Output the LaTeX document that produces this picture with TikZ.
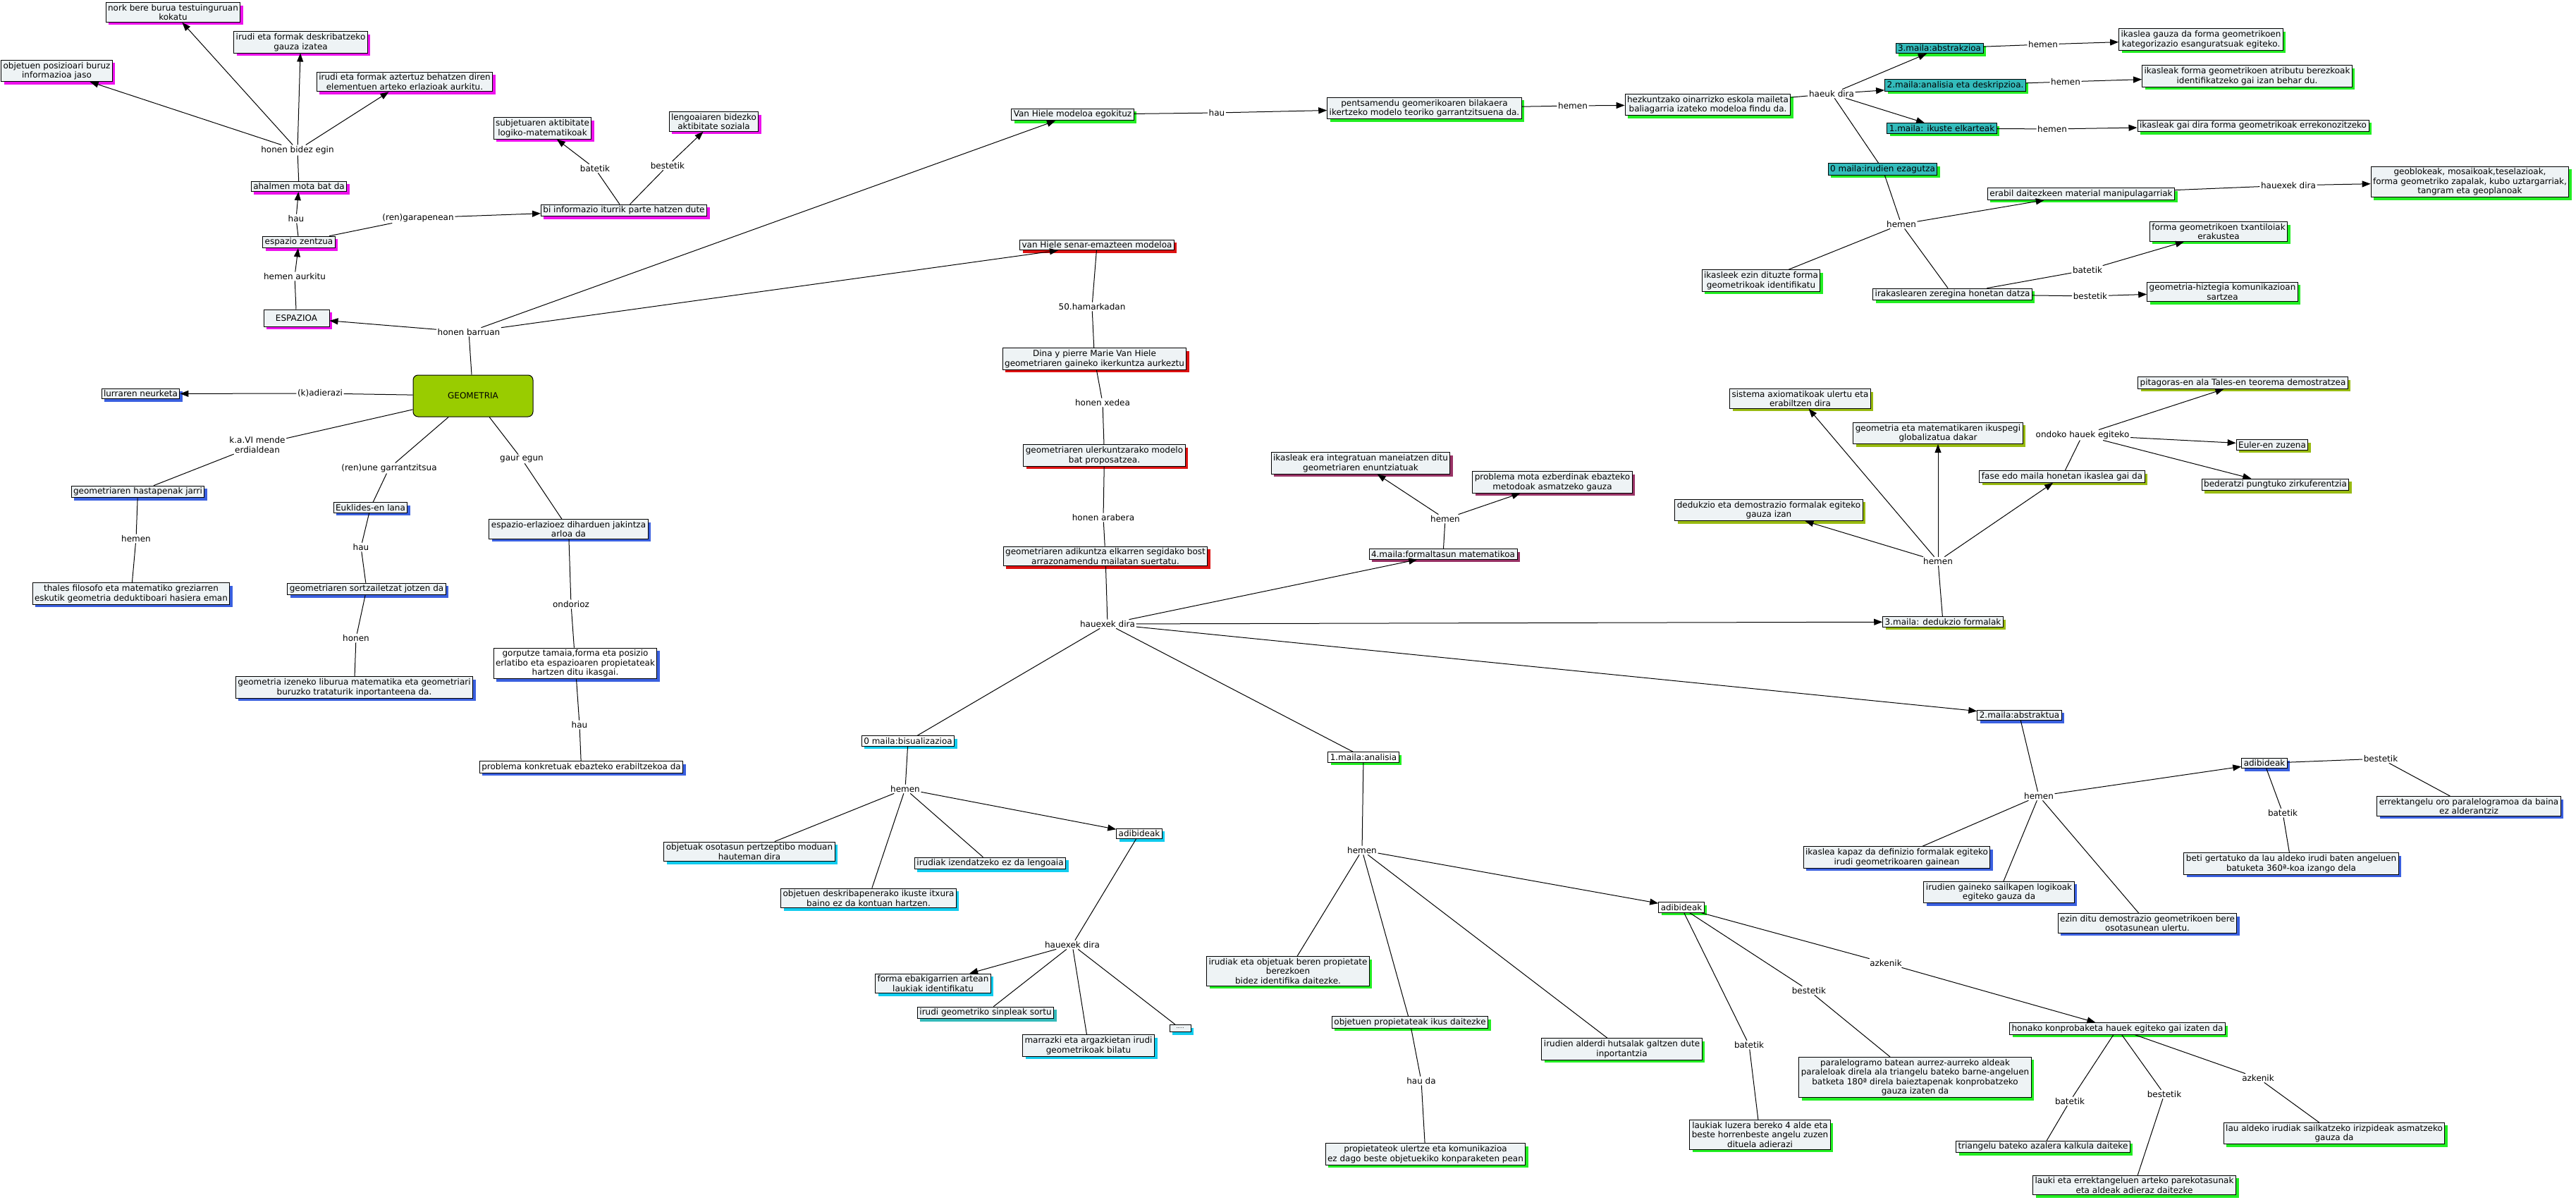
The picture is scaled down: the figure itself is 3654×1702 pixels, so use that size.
\documentclass[tikz,border=0pt]{standalone}
\usepackage{fontspec}
\setmainfont{DejaVu Sans}
\usetikzlibrary{arrows.meta,shadows}
\definecolor{bfill}{HTML}{EEF3F5}
\definecolor{cmag}{HTML}{EE11EE}
\definecolor{cblue}{HTML}{3A60E0}
\definecolor{cgreen}{HTML}{22EE22}
\definecolor{cred}{HTML}{DD1111}
\definecolor{cpurp}{HTML}{993366}
\definecolor{colive}{HTML}{99BB11}
\definecolor{ccyan}{HTML}{11CCEE}
\definecolor{cteal}{HTML}{33BBBB}
\definecolor{geo}{HTML}{99CC00}
\tikzset{
 box/.style={draw=black, line width=1pt, fill=bfill, align=center, inner xsep=3pt, inner ysep=2.5pt, font=\fontsize{12}{13.5}\selectfont},
 wbox/.style={box, fill=white},
 tbox/.style={box, fill=cteal},
 sh/.style={drop shadow={shadow xshift=4pt,shadow yshift=-4pt,opacity=1,fill=#1,draw=none}},
 lbl/.style={fill=white, inner sep=1.5pt, align=center, font=\fontsize{12}{13.5}\selectfont},
 ln/.style={line width=1pt, black},
 arr/.style={ln, -{Triangle[length=12pt,width=9pt]}},
}
\begin{document}
\begin{tikzpicture}[x=1pt,y=-1pt]
\useasboundingbox (0,0) rectangle (3654,1702);
% ---------- ESPAZIOA branch
\node[box,sh=cmag] (nork) at (245.5,17.5) {nork bere burua testuinguruan\\kokatu};
\node[box,sh=cmag] (deskr) at (426.5,60) {irudi eta formak deskribatzeko\\gauza izatea};
\node[box,sh=cmag] (posiz) at (80.5,100.5) {objetuen posizioari buruz\\informazioa jaso};
\node[box,sh=cmag] (azter) at (574,116) {irudi eta formak aztertuz behatzen diren\\elementuen arteko erlazioak aurkitu.};
\node[lbl] (Lbidez) at (422,213) {honen bidez egin};
\node[box,sh=cmag] (ahalmen) at (424,264.5) {ahalmen mota bat da};
\node[lbl] (Lhau1) at (420,310) {hau};
\node[box,sh=cmag] (zentzua) at (424,343.5) {espazio zentzua};
\node[lbl] (Lgarap) at (593,309) {(ren)garapenean};
\node[box,sh=cmag] (biinfo) at (885,298.5) {bi informazio iturrik parte hatzen dute};
\node[lbl] (Lbat1) at (844,239) {batetik};
\node[lbl] (Lbest1) at (947,235) {bestetik};
\node[box,sh=cmag] (subj) at (769.5,182) {subjetuaren aktibitate\\logiko-matematikoak};
\node[box,sh=cmag] (leng) at (1012.5,172.5) {lengoaiaren bidezko\\aktibitate soziala};
\node[lbl] (Laurk) at (418,392) {hemen aurkitu};
\node[box,sh=cmag,minimum width=93pt,minimum height=24pt] (espazioa) at (420.5,451) {ESPAZIOA};
\node[lbl] (Lbarr) at (665,471) {honen barruan};
% ---------- GEOMETRIA
\node[draw=black,line width=1pt,fill=geo,rounded corners=7pt,minimum width=170pt,minimum height=59pt,font=\fontsize{12}{13.5}\selectfont] (geo) at (671,561.5) {GEOMETRIA};
\node[box,sh=cblue] (lurraren) at (199.5,558.5) {lurraren neurketa};
\node[lbl] (Lkadi) at (454,558) {(k)adierazi};
\node[lbl] (Lkavi) at (365,631) {k.a.VI mende\\erdialdean};
\node[box,sh=cblue] (hastapen) at (195.5,697.5) {geometriaren hastapenak jarri};
\node[lbl] (Lhemen2) at (193,764) {hemen};
\node[box,sh=cblue] (thales) at (186,842) {thales filosofo eta matematiko greziarren\\eskutik geometria deduktiboari hasiera eman};
\node[lbl] (Lune) at (552,664) {(ren)une garrantzitsua};
\node[box,sh=cblue] (euklides) at (525.5,720) {Euklides-en lana};
\node[lbl] (Lhau2) at (512,776) {hau};
\node[box,sh=cblue] (sortzaile) at (520,835.5) {geometriaren sortzailetzat jotzen da};
\node[lbl] (Lhonen) at (505,905) {honen};
\node[box,sh=cblue] (liburua) at (502.5,975) {geometria izeneko liburua matematika eta geometriari\\buruzko trataturik inportanteena da.};
\node[lbl] (Lgaur) at (740,651) {gaur egun};
\node[box,sh=cblue] (jakintza) at (806.5,750.5) {espazio-erlazioez diharduen jakintza\\arloa da};
\node[lbl] (Londor) at (810,857) {ondorioz};
\node[wbox,sh=cblue] (gorputze) at (816,941) {gorputze tamaia,forma eta posizio\\erlatibo eta espazioaren propietateak\\hartzen ditu ikasgai.};
\node[lbl] (Lhau3) at (822,1028) {hau};
\node[wbox,sh=cblue] (konkretuak) at (824.5,1088) {problema konkretuak ebazteko erabiltzekoa da};
% ---------- Van Hiele egokituz
\node[box,sh=cgreen] (egokituz) at (1521.5,162.5) {Van Hiele modeloa egokituz};
\node[lbl] (Lhau4) at (1726,160) {hau};
\node[box,sh=cgreen] (pentsamendu) at (2020.5,153.5) {pentsamendu geomerikoaren bilakaera\\ikertzeko modelo teoriko garrantzitsuena da.};
\node[lbl] (Lhemen4) at (2231,150) {hemen};
\node[box,sh=cgreen] (hezkuntzako) at (2422.5,148.5) {hezkuntzako oinarrizko eskola maileta\\baliagarria izateko modeloa findu da.};
\node[lbl] (Lhaeuk) at (2598,133) {haeuk dira};
\node[tbox,sh=cgreen] (m3) at (2751,68.5) {3.maila:abstrakzioa};
\node[lbl] (Lh3) at (2898,63) {hemen};
\node[box,sh=cgreen] (m3t) at (3122,56) {ikaslea gauza da forma geometrikoen\\kategorizazio esanguratsuak egiteko.};
\node[tbox,sh=cgreen] (m2) at (2773.5,121) {2.maila:analisia eta deskripzioa.};
\node[lbl] (Lh2) at (2930,116) {hemen};
\node[box,sh=cgreen] (m2t) at (3187.5,108) {ikasleak forma geometrikoen atributu berezkoak\\identifikatzeko gai izan behar du.};
\node[tbox,sh=cgreen] (m1) at (2754.5,182) {1.maila: ikuste elkarteak};
\node[lbl] (Lh1) at (2911,183) {hemen};
\node[box,sh=cgreen] (m1t) at (3196,178.5) {ikasleak gai dira forma geometrikoak errekonozitzeko};
\node[tbox,sh=cgreen] (m0) at (2670.5,240) {0 maila:irudien ezagutza};
\node[lbl] (Lh0) at (2697,318) {hemen};
\node[box,sh=cgreen] (erabil) at (2952,275) {erabil daitezkeen material manipulagarriak};
\node[lbl] (Lhauex2) at (3246,263) {hauexek dira};
\node[box,sh=cgreen] (geobl) at (3503.5,258) {geoblokeak, mosaikoak,teselazioak,\\forma geometriko zapalak, kubo uztargarriak,\\tangram eta geoplanoak};
\node[box,sh=cgreen] (txantil) at (3147,328.5) {forma geometrikoen txantiloiak\\erakustea};
\node[lbl] (Lbat2) at (2961,383) {batetik};
\node[box,sh=cgreen] (irakasle) at (2769.5,417.5) {irakaslearen zeregina honetan datza};
\node[lbl] (Lbest2) at (2965,420) {bestetik};
\node[box,sh=cgreen] (hiztegi) at (3152.5,414) {geometria-hiztegia komunikazioan\\sartzea};
\node[box,sh=cgreen] (ezin) at (2498,398) {ikasleek ezin dituzte forma\\geometrikoak identifikatu};
% ---------- red chain
\node[box,sh=cred] (senar) at (1556,347.5) {van Hiele senar-emazteen modeloa};
\node[lbl] (L50) at (1549,435) {50.hamarkadan};
\node[box,sh=cred] (dina) at (1552.5,509) {Dina y pierre Marie Van Hiele\\geometriaren gaineko ikerkuntza aurkeztu};
\node[lbl] (Lxedea) at (1564,571) {honen xedea};
\node[box,sh=cred] (ulerk) at (1566.5,646) {geometriaren ulerkuntzarako modelo\\bat proposatzea.};
\node[lbl] (Larab) at (1565,734) {honen arabera};
\node[box,sh=cred] (adik) at (1568,789) {geometriaren adikuntza elkarren segidako bost\\arrazonamendu mailatan suertatu.};
\node[lbl] (Lhauex) at (1571,885) {hauexek dira};
% ---------- 4.maila
\node[box,sh=cpurp] (m4) at (2047,786) {4.maila:formaltasun matematikoa};
\node[lbl] (Lh4) at (2050,736) {hemen};
\node[box,sh=cpurp] (integ) at (1930,657) {ikasleak era integratuan maneiatzen ditu\\geometriaren enuntziatuak};
\node[box,sh=cpurp] (probmota) at (2202,684) {problema mota ezberdinak ebazteko\\metodoak asmatzeko gauza};
% ---------- 3.maila dedukzio
\node[box,sh=colive] (d3) at (2756,882) {3.maila: dedukzio formalak};
\node[lbl] (Lhd) at (2749,796) {hemen};
\node[box,sh=colive] (dedukz) at (2509,723.5) {dedukzio eta demostrazio formalak egiteko\\gauza izan};
\node[box,sh=colive] (sistema) at (2553.5,565.5) {sistema axiomatikoak ulertu eta\\erabiltzen dira};
\node[box,sh=colive] (global) at (2749,614.5) {geometria eta matematikaren ikuspegi\\globalizatua dakar};
\node[box,sh=colive] (fase) at (2925,676) {fase edo maila honetan ikaslea gai da};
\node[lbl] (Londoko) at (2954,617) {ondoko hauek egiteko};
\node[box,sh=colive] (pitag) at (3181.5,543) {pitagoras-en ala Tales-en teorema demostratzea};
\node[box,sh=colive] (euler) at (3223,631) {Euler-en zuzena};
\node[box,sh=colive] (bederatzi) at (3227.5,687.5) {bederatzi pungtuko zirkuferentzia};
% ---------- 2.maila abstraktua
\node[box,sh=cblue] (a2) at (2864.5,1014.5) {2.maila:abstraktua};
\node[lbl] (Lha) at (2892,1129) {hemen};
\node[box,sh=cblue] (adib2) at (3212,1082.5) {adibideak};
\node[lbl] (Lbest3) at (3377,1076) {bestetik};
\node[box,sh=cblue] (errekt) at (3502,1143.5) {errektangelu oro paralelogramoa da baina\\ez alderantziz};
\node[lbl] (Lbat3) at (3238,1153) {batetik};
\node[box,sh=cblue] (beti) at (3250,1225) {beti gertatuko da lau aldeko irudi baten angeluen\\batuketa 360ª-koa izango dela};
\node[box,sh=cblue] (kapaz) at (2690.5,1216) {ikaslea kapaz da definizio formalak egiteko\\irudi geometrikoaren gainean};
\node[box,sh=cblue] (sailk) at (2835.5,1265.5) {irudien gaineko sailkapen logikoak\\egiteko gauza da};
\node[box,sh=cblue] (ezinditu) at (3046,1309.5) {ezin ditu demostrazio geometrikoen bere\\osotasunean ulertu.};
% ---------- 0 maila bisualizazioa
\node[wbox,sh=ccyan] (b0) at (1288,1051) {0 maila:bisualizazioa};
\node[lbl] (Lhb) at (1284,1119) {hemen};
\node[box,sh=ccyan] (osot) at (1063,1208) {objetuak osotasun pertzeptibo moduan\\hauteman dira};
\node[box,sh=ccyan] (deskrib) at (1232,1274) {objetuen deskribapenerako ikuste itxura\\baino ez da kontuan hartzen.};
\node[box,sh=ccyan] (izend) at (1404.5,1224.5) {irudiak izendatzeko ez da lengoaia};
\node[wbox,sh=ccyan] (adib0) at (1616,1182.5) {adibideak};
\node[lbl] (Lhauex3) at (1521,1340) {hauexek dira};
\node[box,sh=ccyan] (ebaki) at (1323.5,1395) {forma ebakigarrien artean\\laukiak identifikatu};
\node[box,sh=cteal] (sinple) at (1398,1436.5) {irudi geometriko sinpleak sortu};
\node[box,sh=ccyan] (marrazki) at (1544,1483) {marrazki eta argazkietan irudi\\geometrikoak bilatu};
\node[box,sh=ccyan,font=\fontsize{7}{8}\selectfont,inner sep=0.5pt,minimum width=30pt,minimum height=10pt] (dots) at (1674,1458.5) {.....};
% ---------- 1.maila analisia
\node[wbox,sh=cgreen] (a1) at (1934,1074) {1.maila:analisia};
\node[lbl] (Lh1a) at (1932,1206) {hemen};
\node[box,sh=cgreen] (berezk) at (1827,1377.5) {irudiak eta objetuak beren propietate\\berezkoen\\bidez identifika daitezke.};
\node[box,sh=cgreen] (propiet) at (2000,1450) {objetuen propietateak ikus daitezke};
\node[lbl] (Lhauda) at (2016,1533) {hau da};
\node[box,sh=cgreen] (propok) at (2022,1637) {propietateok ulertze eta komunikazioa\\ez dago beste objetuekiko konparaketen pean};
\node[box,sh=cgreen] (hutsal) at (2300.5,1488) {irudien alderdi hutsalak galtzen dute\\inportantzia};
\node[wbox,sh=cgreen] (adib1) at (2385,1287) {adibideak};
\node[lbl] (Lazk4) at (2675,1366) {azkenik};
\node[lbl] (Lbest4) at (2566,1405) {bestetik};
\node[lbl] (Lbat4) at (2481,1482) {batetik};
\node[box,sh=cgreen] (laukiak) at (2496.5,1609.5) {laukiak luzera bereko 4 alde eta\\beste horrenbeste angelu zuzen\\dituela adierazi};
\node[box,sh=cgreen] (paralel) at (2716.5,1528) {paralelogramo batean aurrez-aurreko aldeak\\paraleloak direla ala triangelu bateko barne-angeluen\\batketa 180ª direla baieztapenak konprobatzeko\\gauza izaten da};
\node[box,sh=cgreen] (honako) at (3003.5,1459) {honako konprobaketa hauek egiteko gai izaten da};
\node[lbl] (Lbat5) at (2936,1562) {batetik};
\node[box,sh=cgreen] (triang) at (2898,1626.5) {triangelu bateko azalera kalkula daiteke};
\node[lbl] (Lbest5) at (3070,1552) {bestetik};
\node[box,sh=cgreen] (lauki) at (3027.5,1681) {lauki eta errektangeluen arteko parekotasunak\\eta aldeak adieraz daitezke};
\node[lbl] (Lazk5) at (3203,1529) {azkenik};
\node[box,sh=cgreen] (lau) at (3311,1607.5) {lau aldeko irudiak sailkatzeko irizpideak asmatzeko\\gauza da};
% ================= connectors
\draw[ln] (ahalmen) -- (Lbidez);
\foreach \t in {nork,deskr,posiz,azter} \draw[arr] (Lbidez) -- (\t);
\draw[ln] (zentzua) -- (Lhau1); \draw[arr] (Lhau1) -- (ahalmen);
\draw[ln] (zentzua) -- (Lgarap); \draw[arr] (Lgarap) -- (biinfo);
\draw[ln] (biinfo) -- (Lbat1); \draw[arr] (Lbat1) -- (subj);
\draw[ln] (biinfo) -- (Lbest1); \draw[arr] (Lbest1) -- (leng);
\draw[ln] (espazioa) -- (Laurk); \draw[arr] (Laurk) -- (zentzua);
\draw[ln] (geo) -- (Lbarr);
\foreach \t in {espazioa,egokituz,senar} \draw[arr] (Lbarr) -- (\t);
\draw[ln] (geo) -- (Lkadi); \draw[arr] (Lkadi) -- (lurraren);
\draw[ln] (geo) -- (Lkavi) -- (hastapen);
\draw[ln] (hastapen) -- (Lhemen2) -- (thales);
\draw[ln] (geo) -- (Lune) -- (euklides);
\draw[ln] (euklides) -- (Lhau2) -- (sortzaile);
\draw[ln] (sortzaile) -- (Lhonen) -- (liburua);
\draw[ln] (geo) -- (Lgaur) -- (jakintza);
\draw[ln] (jakintza) -- (Londor) -- (gorputze);
\draw[ln] (gorputze) -- (Lhau3) -- (konkretuak);
\draw[ln] (egokituz) -- (Lhau4); \draw[arr] (Lhau4) -- (pentsamendu);
\draw[ln] (pentsamendu) -- (Lhemen4); \draw[arr] (Lhemen4) -- (hezkuntzako);
\draw[ln] (hezkuntzako) -- (Lhaeuk);
\foreach \t in {m3,m2,m1} \draw[arr] (Lhaeuk) -- (\t);
\draw[ln] (Lhaeuk) -- (m0);
\draw[ln] (m3) -- (Lh3); \draw[arr] (Lh3) -- (m3t);
\draw[ln] (m2) -- (Lh2); \draw[arr] (Lh2) -- (m2t);
\draw[ln] (m1) -- (Lh1); \draw[arr] (Lh1) -- (m1t);
\draw[ln] (m0) -- (Lh0); \draw[arr] (Lh0) -- (erabil);
\draw[ln] (Lh0) -- (ezin); \draw[ln] (Lh0) -- (irakasle);
\draw[ln] (erabil) -- (Lhauex2); \draw[arr] (Lhauex2) -- (geobl);
\draw[ln] (irakasle) -- (Lbat2); \draw[arr] (Lbat2) -- (txantil);
\draw[ln] (irakasle) -- (Lbest2); \draw[arr] (Lbest2) -- (hiztegi);
\draw[ln] (senar) -- (L50) -- (dina);
\draw[ln] (dina) -- (Lxedea) -- (ulerk);
\draw[ln] (ulerk) -- (Larab) -- (adik);
\draw[ln] (adik) -- (Lhauex);
\foreach \t in {m4,d3,a2} \draw[arr] (Lhauex) -- (\t);
\draw[ln] (Lhauex) -- (b0); \draw[ln] (Lhauex) -- (a1);
\draw[ln] (m4) -- (Lh4);
\foreach \t in {integ,probmota} \draw[arr] (Lh4) -- (\t);
\draw[ln] (d3) -- (Lhd);
\foreach \t in {dedukz,sistema,global,fase} \draw[arr] (Lhd) -- (\t);
\draw[ln] (fase) -- (Londoko);
\foreach \t in {pitag,euler,bederatzi} \draw[arr] (Londoko) -- (\t);
\draw[ln] (a2) -- (Lha); \draw[arr] (Lha) -- (adib2);
\foreach \t in {kapaz,sailk,ezinditu} \draw[ln] (Lha) -- (\t);
\draw[ln] (adib2) -- (Lbest3) -- (errekt);
\draw[ln] (adib2) -- (Lbat3) -- (beti);
\draw[ln] (b0) -- (Lhb); \draw[arr] (Lhb) -- (adib0);
\foreach \t in {osot,deskrib,izend} \draw[ln] (Lhb) -- (\t);
\draw[ln] (adib0) -- (Lhauex3); \draw[arr] (Lhauex3) -- (ebaki);
\foreach \t in {sinple,marrazki,dots} \draw[ln] (Lhauex3) -- (\t);
\draw[ln] (a1) -- (Lh1a); \draw[arr] (Lh1a) -- (adib1);
\foreach \t in {berezk,propiet,hutsal} \draw[ln] (Lh1a) -- (\t);
\draw[ln] (propiet) -- (Lhauda) -- (propok);
\draw[ln] (adib1) -- (Lbat4) -- (laukiak);
\draw[ln] (adib1) -- (Lbest4) -- (paralel);
\draw[ln] (adib1) -- (Lazk4); \draw[arr] (Lazk4) -- (honako);
\draw[ln] (honako) -- (Lbat5) -- (triang);
\draw[ln] (honako) -- (Lbest5) -- (lauki);
\draw[ln] (honako) -- (Lazk5) -- (lau);
\end{tikzpicture}
\end{document}
